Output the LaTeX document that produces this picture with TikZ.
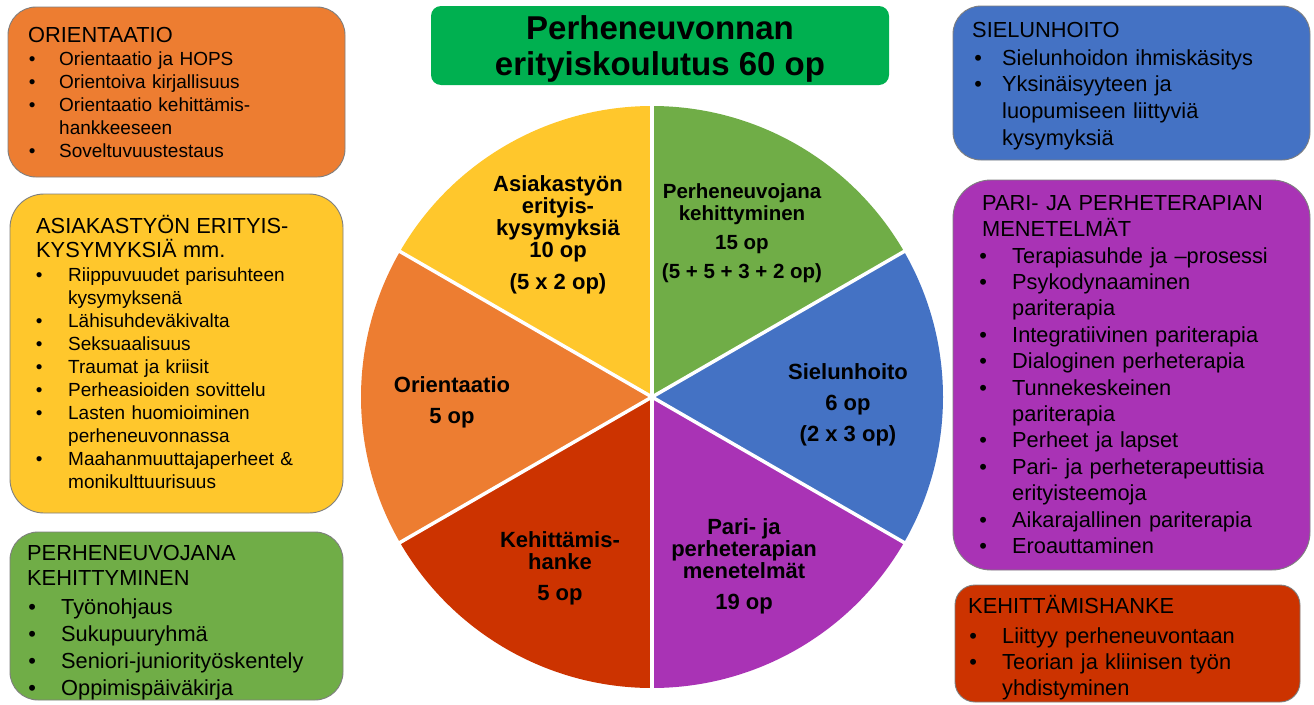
\documentclass[tikz,border=0pt]{standalone}
\usepackage{fontspec}
\setmainfont{Liberation Sans}
\definecolor{corange}{HTML}{ED7D31}
\definecolor{cyellow}{HTML}{FFC72C}
\definecolor{cgreen}{HTML}{70AD47}
\definecolor{cblue}{HTML}{4472C4}
\definecolor{cpurple}{HTML}{A933B5}
\definecolor{cred}{HTML}{CC3300}
\definecolor{ctitle}{HTML}{00B050}
\definecolor{cedge}{HTML}{7F7F7F}
\newlength\bind
\newlength\bgap
\newcommand\bli[1]{\par\noindent\hspace*{\bind}\llap{•\hspace{\bgap}}#1}
\newcommand\cnt[1]{\par\noindent\hspace*{\bind}#1}
\newcommand\fst{\rule{0pt}{19pt}}
\newcommand\gst{\rule{0pt}{21pt}}
\newcommand\bigf{\fontsize{21.8}{23}\selectfont}
\begin{document}
\begin{tikzpicture}[x=1pt,y=-1pt,
  box/.style={draw=cedge, line width=0.9pt, inner sep=0pt},
  btext/.style={anchor=north west, inner sep=0pt, text width=345pt, align=left},
  plabel/.style={anchor=north, inner sep=0pt, align=center, font=\fontsize{22}{22}\selectfont\bfseries}]
\useasboundingbox (0,0) rectangle (1314,704);
\fill[white] (0,0) rectangle (1314,704);

% boxes
\node[box, fill=corange, minimum width=337pt, minimum height=170pt, rounded corners=28pt] (b1) at (176.5,92) {};
\node[box, fill=cyellow, minimum width=333pt, minimum height=319pt, rounded corners=34pt] (b2) at (176.5,353.5) {};
\node[box, fill=cgreen, minimum width=333pt, minimum height=168pt, rounded corners=28pt] (b3) at (176.5,616) {};
\node[box, fill=cblue, minimum width=357pt, minimum height=154pt, rounded corners=28pt] (b4) at (1131.5,83) {};
\node[box, fill=cpurple, minimum width=357pt, minimum height=390pt, rounded corners=38pt] (b5) at (1131.5,375) {};
\node[box, fill=cred, minimum width=345pt, minimum height=117pt, rounded corners=20pt] (b6) at (1127.5,643.5) {};
\node[fill=ctitle, minimum width=458pt, minimum height=79pt, rounded corners=10pt, inner sep=0pt] (tb) at (660,45.5) {};

% pie
\coordinate (pc) at (652,397);
\fill[cgreen]  (pc) -- ++(30:291pt)  arc[start angle=30,  end angle=90,  radius=291pt] -- cycle;
\fill[cyellow] (pc) -- ++(90:291pt)  arc[start angle=90,  end angle=150, radius=291pt] -- cycle;
\fill[corange] (pc) -- ++(150:291pt) arc[start angle=150, end angle=210, radius=291pt] -- cycle;
\fill[cred]    (pc) -- ++(210:291pt) arc[start angle=210, end angle=270, radius=291pt] -- cycle;
\fill[cpurple] (pc) -- ++(270:291pt) arc[start angle=270, end angle=330, radius=291pt] -- cycle;
\fill[cblue]   (pc) -- ++(-30:291pt) arc[start angle=-30, end angle=30,  radius=291pt] -- cycle;
\foreach \a in {30,90,150,210,270,330}
  \draw[white, line width=3.5pt] (pc) -- ++(\a:293pt);

% title
\node[anchor=north, inner sep=0pt, align=center, font=\fontsize{33}{36}\selectfont\bfseries] (title) at (660,13)
  {\rule{0pt}{26pt}Perheneuvonnan\\erityiskoulutus 60 op};

% pie labels
\node[plabel] (ly) at (558,172) {\fst Asiakastyön\\erityis-\\kysymyksiä\\10 op\\[10pt](5 x 2 op)};
\node[plabel, font=\fontsize{20.5}{22}\selectfont\bfseries] (lg) at (742,179) {\fst Perheneuvojana\\kehittyminen\\[7pt]15 op\\[7pt](5 + 5 + 3 + 2 op)};
\node[plabel] (lb) at (848,360) {\fst Sielunhoito\\[9pt]6 op\\[9pt](2 x 3 op)};
\node[plabel] (lo) at (452,373) {\fst Orientaatio\\[9pt]5 op};
\node[plabel] (lr) at (560,528) {\fst Kehittämis-\\hanke\\[9pt]5 op};
\node[plabel] (lp) at (744,515) {\fst Pari- ja\\perheterapian\\menetelmät\\[9pt]19 op};

% box texts
\node[btext, font=\fontsize{19}{23}\selectfont] (t1) at (28,21) {%
  \setlength\bind{31pt}\setlength\bgap{23.7pt}%
  \noindent\gst{\bigf ORIENTAATIO}
  \bli{Orientaatio ja HOPS}
  \bli{Orientoiva kirjallisuus}
  \bli{Orientaatio kehittämis-}
  \cnt{hankkeeseen}
  \bli{Soveltuvuustestaus}};

\node[btext, font=\fontsize{19}{23}\selectfont] (t2) at (36,212) {%
  \setlength\bind{32pt}\setlength\bgap{25.7pt}%
  \noindent\gst{\bigf ASIAKASTYÖN ERITYIS-}\par\vspace{1.5pt}
  \noindent{\bigf KYSYMYKSIÄ mm.}\par\vspace{1pt}
  \bli{Riippuvuudet parisuhteen}
  \cnt{kysymyksenä}
  \bli{Lähisuhdeväkivalta}
  \bli{Seksuaalisuus}
  \bli{Traumat ja kriisit}
  \bli{Perheasioiden sovittelu}
  \bli{Lasten huomioiminen}
  \cnt{perheneuvonnassa}
  \bli{Maahanmuuttajaperheet \&}
  \cnt{monikulttuurisuus}};

\node[btext, font=\fontsize{21.8}{27}\selectfont] (t3) at (27,539) {%
  \setlength\bind{34pt}\setlength\bgap{25.2pt}%
  \noindent\gst PERHENEUVOJANA\par\vspace{-2pt}
  \noindent KEHITTYMINEN\par\vspace{2pt}
  \bli{Työnohjaus}
  \bli{Sukupuuryhmä}
  \bli{Seniori-juniorityöskentely}
  \bli{Oppimispäiväkirja}};

\node[btext, font=\fontsize{21.8}{26.7}\selectfont] (t4) at (972,16) {%
  \setlength\bind{30pt}\setlength\bgap{20.2pt}%
  \noindent\gst SIELUNHOITO\par\vspace{1.3pt}
  \bli{Sielunhoidon ihmiskäsitys}
  \bli{Yksinäisyyteen ja}
  \cnt{luopumiseen liittyviä}
  \cnt{kysymyksiä}};

\node[btext, font=\fontsize{21.8}{26.4}\selectfont] (t5) at (982,189) {%
  \setlength\bind{30pt}\setlength\bgap{25.2pt}%
  \noindent\gst PARI- JA PERHETERAPIAN
  \par\noindent MENETELMÄT
  \bli{Terapiasuhde ja –prosessi}
  \bli{Psykodynaaminen}
  \cnt{pariterapia}
  \bli{Integratiivinen pariterapia}
  \bli{Dialoginen perheterapia}
  \bli{Tunnekeskeinen}
  \cnt{pariterapia}
  \bli{Perheet ja lapset}
  \bli{Pari- ja perheterapeuttisia}
  \cnt{erityisteemoja}
  \bli{Aikarajallinen pariterapia}
  \bli{Eroauttaminen}};

\node[btext, font=\fontsize{21.8}{26.3}\selectfont] (t6) at (968,592) {%
  \setlength\bind{34pt}\setlength\bgap{25.2pt}%
  \noindent\gst KEHITTÄMISHANKE\par\vspace{3.7pt}
  \bli{Liittyy perheneuvontaan}
  \bli{Teorian ja kliinisen työn}
  \cnt{yhdistyminen}};
\end{tikzpicture}
\end{document}
